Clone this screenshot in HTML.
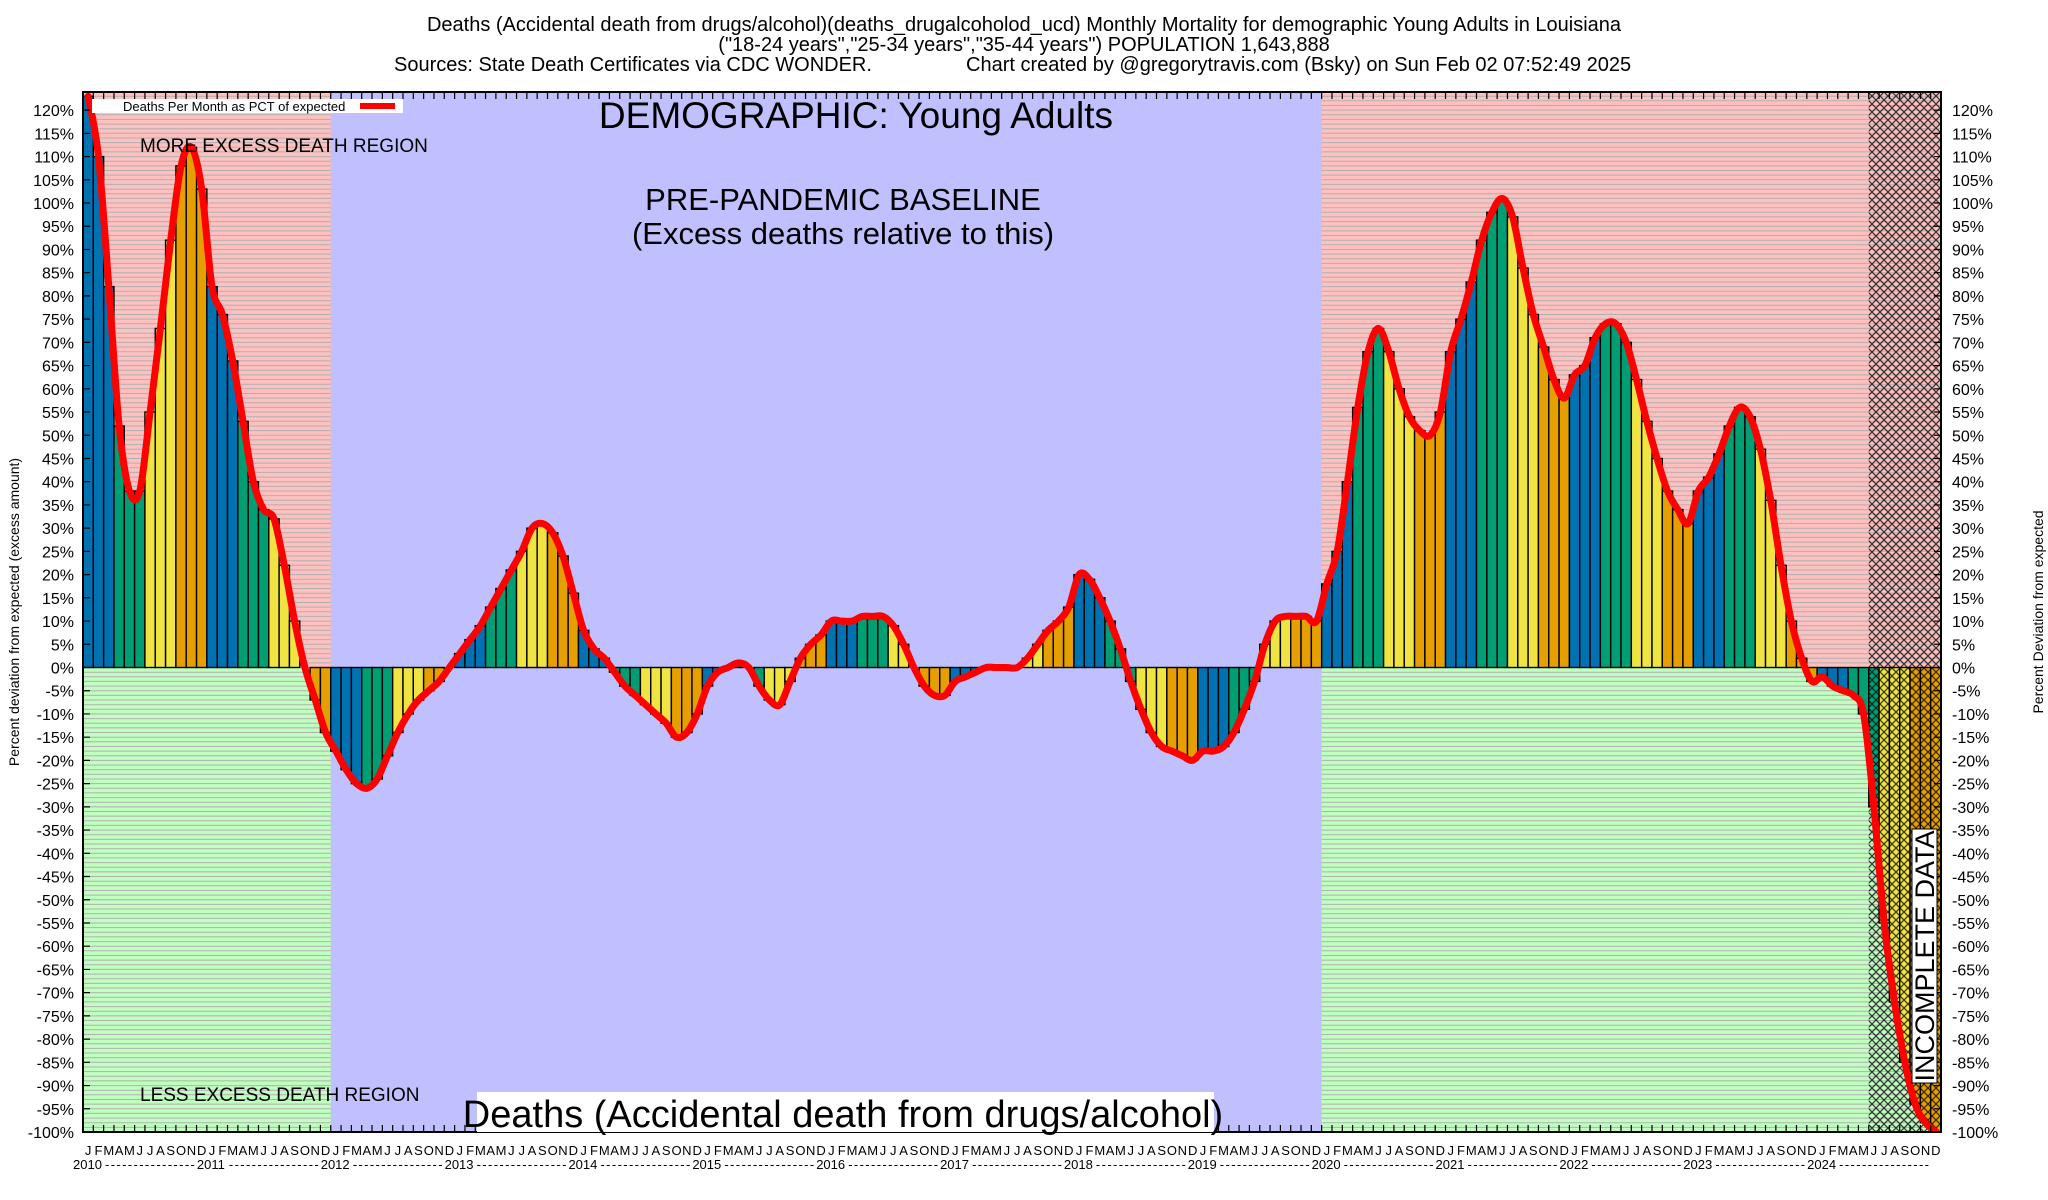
<!DOCTYPE html>
<html><head><meta charset="utf-8"><style>
html,body{margin:0;padding:0;background:#fff;}
svg{display:block;font-family:"Liberation Sans",Arial,sans-serif;}
</style></head><body>
<svg id="chart" width="2048" height="1200" viewBox="0 0 2048 1200" xmlns="http://www.w3.org/2000/svg">
<defs>
<pattern id="hatch" width="8" height="8" patternUnits="userSpaceOnUse">
<path d="M0,0 L8,8 M8,0 L0,8" stroke="#000" stroke-width="1.3" opacity="0.75"/>
</pattern>
<clipPath id="plotclip"><rect x="83" y="92" width="1858" height="1040"/></clipPath>
</defs>
<g id="bg"></g>
<g id="bars" clip-path="url(#plotclip)"></g>
<g id="overlay"></g>
<g id="lines" clip-path="url(#plotclip)"></g>
<g id="axes"></g>
<g font-size="20" fill="#000">
<text x="1024" y="31" text-anchor="middle">Deaths (Accidental death from drugs/alcohol)(deaths_drugalcoholod_ucd) Monthly Mortality for demographic Young Adults in Louisiana</text>
<text x="1024" y="51" text-anchor="middle">("18-24 years","25-34 years","35-44 years") POPULATION 1,643,888</text>
<text x="394" y="71">Sources: State Death Certificates via CDC WONDER.</text>
<text x="966" y="71">Chart created by @gregorytravis.com (Bsky) on Sun Feb 02 07:52:49 2025</text>
</g>
</svg>
<script>
const years = ['2010','2011','2012','2013','2014','2015','2016','2017','2018','2019','2020','2021','2022','2023','2024'];
const monthLetters = ['J','F','M','A','M','J','J','A','S','O','N','D'];
const values = [
123,110,82,52,38,38,55,73,92,108,112,103,
82,76,66,53,40,34,32,22,10,0,-7,-14,
-18,-22,-25,-26,-24,-19,-14,-10,-7,-5,-3,0,
3,6,9,13,17,21,25,30,31,29,24,16,
8,4,2,-1,-4,-6,-8,-10,-12,-15,-14,-10,
-4,-1,0,1,0,-4,-7,-8,-3,2,5,7,
10,10,10,11,11,11,9,5,0,-4,-6,-6,
-3,-2,-1,0,0,0,0,2,5,8,10,13,
20,19,15,10,4,-3,-9,-14,-17,-18,-19,-20,
-18,-18,-17,-14,-9,-3,5,10,11,11,11,10,
18,25,40,56,68,73,68,60,54,51,50,55,
68,75,83,92,98,101,97,86,76,69,62,58,
63,65,71,74,74,70,62,53,45,38,34,31,
38,41,46,52,56,54,47,36,22,10,2,-3,
-2,-4,-5,-6,-10,-30,-55,-72,-85,-94,-98,-100];
const yTicks = [120,115,110,105,100,95,90,85,80,75,70,65,60,55,50,45,40,35,30,25,20,15,10,5,0,-5,-10,-15,-20,-25,-30,-35,-40,-45,-50,-55,-60,-65,-70,-75,-80,-85,-90,-95,-100];
const excessRegions = [[0,24],[120,180]];
const incompleteStart = 173;

const NS='http://www.w3.org/2000/svg';
const L=83,R=1941,T=92,B=1132;
const mw=(R-L)/180;
const xs=i=>L+i*mw;
const ys=v=>B-(v+100)*(B-T)/223.9;
function mk(tag,attrs,parent,txt){const e=document.createElementNS(NS,tag);for(const k in attrs)e.setAttribute(k,attrs[k]);if(txt!==undefined)e.textContent=txt;parent.appendChild(e);return e;}
const bg=document.getElementById('bg'),bars=document.getElementById('bars'),ov=document.getElementById('overlay'),ln=document.getElementById('lines'),ax=document.getElementById('axes');
const svg=document.getElementById('chart');

let r=mk('rect',{x:L,y:T,width:R-L,height:B-T,fill:'#c0c0ff'},bg);


const y0=ys(0);
excessRegions.forEach(([a,b])=>{
  let p=mk('rect',{x:xs(a),y:T,width:xs(b)-xs(a),height:y0-T,fill:'#ffc0c0'},bg);
  
  
  let g=mk('rect',{x:xs(a),y:y0,width:xs(b)-xs(a),height:B-y0,fill:'#c0ffc0'},bg);
  
  
  let d='';
  for(let v=-100;v<=124;v++){const yy=ys(v);if(yy<T)break;d+=`M${xs(a)},${yy.toFixed(1)}H${xs(b)}`;}
  let gl=mk('path',{d:d,stroke:'#b0b0b0','stroke-width':1,fill:'none'},bg);
  
  
});
const cols=['#0072b2','#009e73','#f0e442','#e69f00'];
values.forEach((v,i)=>{
  const m=i%12;const c=cols[Math.floor(m/3)];
  const yv=ys(v);
  const b=mk('rect',{x:xs(i),y:Math.min(yv,y0),width:mw,height:Math.abs(yv-y0),fill:c,stroke:'#000','stroke-width':1.4},bars);
  
  
});
let h=mk('rect',{x:xs(incompleteStart),y:T,width:R-xs(incompleteStart),height:B-T,fill:'url(#hatch)'},ov);


const pts=values.map((v,i)=>[xs(i)+mw/2,ys(v)]);
let d=`M${pts[0][0]},${pts[0][1]}`;
for(let i=0;i<pts.length-1;i++){const p0=pts[Math.max(0,i-1)],p1=pts[i],p2=pts[i+1],p3=pts[Math.min(pts.length-1,i+2)];
const c1=[p1[0]+(p2[0]-p0[0])/6,p1[1]+(p2[1]-p0[1])/6],c2=[p2[0]-(p3[0]-p1[0])/6,p2[1]-(p3[1]-p1[1])/6];
d+=`C${c1[0].toFixed(1)},${c1[1].toFixed(1)} ${c2[0].toFixed(1)},${c2[1].toFixed(1)} ${p2[0].toFixed(1)},${p2[1].toFixed(1)}`;}
let rl=mk('path',{d:d,stroke:'#ff0000','stroke-width':7,fill:'none','stroke-linejoin':'round','stroke-linecap':'round'},ln);


let fr=mk('rect',{x:L,y:T,width:R-L,height:B-T,fill:'none',stroke:'#000','stroke-width':2},ax);


let td='';
for(let i=1;i<180;i++){td+=`M${xs(i)},${T}v7M${xs(i)},${B}v-7`;}
yTicks.forEach(v=>{td+=`M${L},${ys(v)}h7M${R},${ys(v)}h-7`;});
mk('path',{d:td,stroke:'#000','stroke-width':1.2},ax);
yTicks.forEach(v=>{
  let t=mk('text',{x:74,y:ys(v)+6,'font-size':16,'text-anchor':'end'},ax,v+'%');
  
  
  let t2=mk('text',{x:1952,y:ys(v)+6,'font-size':16},ax,v+'%');
  
  
});
for(let i=0;i<180;i++){
  let t=mk('text',{x:xs(i)+mw/2,y:1155,'font-size':13,'text-anchor':'middle'},ax,monthLetters[i%12]);
  
  
}
years.forEach((yr,k)=>{
  const x0=xs(k*12);
  let t=mk('text',{x:x0-10,y:1169,'font-size':13},ax,yr);
  
  
  let dsh=mk('text',{x:x0+22,y:1169,'font-size':13,textLength:mw*12-34,lengthAdjust:'spacing'},ax,'----------------');
  
  
});
function txt(name,attrs,s){const t=mk('text',attrs,svg,s);return t;}
txt('y-axis-title-left',{x:0,y:0,'font-size':14,'text-anchor':'middle',transform:'translate(19,612) rotate(-90)'},'Percent deviation from expected (excess amount)');
txt('y-axis-title-right',{x:0,y:0,'font-size':14,'text-anchor':'middle',transform:'translate(2043,612) rotate(-90)'},'Percent Deviation from expected');
let lb=mk('rect',{x:92,y:99,width:311,height:14,fill:'#fff'},svg);


txt('legend-label',{x:123,y:111,'font-size':13},'Deaths Per Month as PCT of expected');
let ls=mk('line',{x1:360,y1:106,x2:395,y2:106,stroke:'#ff0000','stroke-width':6},svg);


txt('demographic-label',{x:856,y:128,'font-size':37,'text-anchor':'middle'},'DEMOGRAPHIC: Young Adults');
txt('baseline-label',{x:843,y:210,'font-size':31,'text-anchor':'middle'},'PRE-PANDEMIC BASELINE');
txt('baseline-sub-label',{x:843,y:244,'font-size':31,'text-anchor':'middle'},'(Excess deaths relative to this)');
txt('more-excess-label',{x:140,y:152,'font-size':19},'MORE EXCESS DEATH REGION');
txt('less-excess-label',{x:140,y:1101,'font-size':19},'LESS EXCESS DEATH REGION');
let bb=mk('rect',{x:477,y:1092,width:737,height:40,fill:'#fff'},svg);


txt('bottom-metric-label',{x:843,y:1127,'font-size':38,'text-anchor':'middle'},'Deaths (Accidental death from drugs/alcohol)');
let ib=mk('rect',{x:1912,y:829,width:25,height:254,fill:'#fff',stroke:'#000','stroke-width':1},svg);


txt('incomplete-data-label',{x:0,y:0,'font-size':27,'text-anchor':'middle',transform:'translate(1934,956) rotate(-90)'},'INCOMPLETE DATA');
</script>
</body></html>
